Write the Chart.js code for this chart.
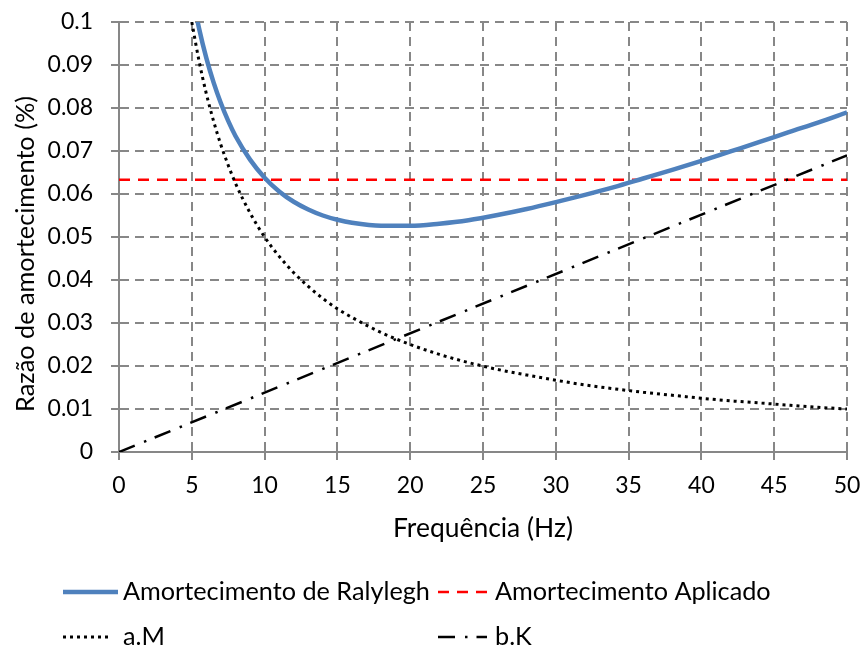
<!DOCTYPE html>
<html><head><meta charset="utf-8">
<script src="https://cdn.jsdelivr.net/npm/chart.js@4.4.1/dist/chart.umd.min.js"></script>
<style>html,body{margin:0;padding:0;background:#fff}</style>
</head><body>
<canvas id="c" width="866" height="647"></canvas>
<script>
// ---- data ----
const freq = [5, 5.5, 6, 6.5, 7, 7.5, 8, 9, 10, 11, 12, 13, 14, 15, 16, 18, 20, 22, 24, 26, 28, 30, 32, 34, 36, 38, 40, 42, 44, 46, 48, 50];
const rayleigh = [0.1069, 0.0985, 0.0916, 0.0859, 0.0811, 0.0770, 0.0735, 0.0680, 0.0638, 0.0606, 0.0582, 0.0564, 0.0550, 0.0540, 0.0533, 0.0526, 0.0526, 0.0531, 0.0539, 0.0551, 0.0565, 0.0581, 0.0598, 0.0616, 0.0636, 0.0656, 0.0677, 0.0699, 0.0721, 0.0744, 0.0766, 0.0790];
const massTerm = [0.1, 0.0909, 0.0833, 0.0769, 0.0714, 0.0667, 0.0625, 0.0556, 0.05, 0.0455, 0.0417, 0.0385, 0.0357, 0.0333, 0.0313, 0.0278, 0.025, 0.0227, 0.0208, 0.0192, 0.0179, 0.0167, 0.0156, 0.0147, 0.0139, 0.0132, 0.0125, 0.0119, 0.0114, 0.0109, 0.0104, 0.01];
const stiffFreq = [0, 50];
const stiffTerm = [0, 0.069];
const appliedFreq = [0, 50];
const appliedDamping = [0.0633, 0.0633];
const yTickLabels = ['0', '0.01', '0.02', '0.03', '0.04', '0.05', '0.06', '0.07', '0.08', '0.09', '0.1'];
const xTickLabels = ['0', '5', '10', '15', '20', '25', '30', '35', '40', '45', '50'];
const seriesNames = ['Amortecimento de Ralylegh', 'Amortecimento Aplicado', 'a.M', 'b.K'];
const xTitle = 'Frequência (Hz)';
const yTitle = 'Razão de amortecimento (%)';

const pts = (xs, ys) => xs.map((x, i) => ({x: x, y: ys[i]}));
const FONT = 'Lato';
const GRID = '#878787';

// font size that makes a text reach a given pixel width
const mctx = document.createElement('canvas').getContext('2d');
function fitSize(text, width) {
  mctx.font = '100px ' + FONT;
  return 100 * width / mctx.measureText(text).width;
}
const legendSize = fitSize(seriesNames[0], 307);
const xTitleSize = fitSize(xTitle, 180);
const yTitleSize = fitSize(yTitle, 316);
const tickSize = 23;

const overlayPlugin = {
  id: 'overlay',
  afterDraw(chart) {
    const ctx = chart.ctx;
    const pos = [[63, 592, 55, 123], [438, 592, 49, 495], [63, 637, 46, 123], [438, 637, 49, 495]];
    ctx.save();
    chart.data.datasets.forEach((ds, i) => {
      const [x, y, len, tx] = pos[i];
      ctx.beginPath();
      ctx.strokeStyle = ds.borderColor;
      ctx.lineWidth = ds.borderWidth;
      ctx.setLineDash(ds.borderDash || []);
      ctx.moveTo(x, y);
      ctx.lineTo(x + len, y);
      ctx.stroke();
      ctx.setLineDash([]);
      ctx.fillStyle = '#000';
      ctx.font = legendSize.toFixed(2) + 'px ' + FONT;
      ctx.textBaseline = 'middle';
      ctx.textAlign = 'left';
      ctx.fillText(ds.label, tx, y);
    });
    // axis titles
    ctx.fillStyle = '#000';
    ctx.textAlign = 'center';
    ctx.textBaseline = 'middle';
    ctx.font = xTitleSize.toFixed(2) + 'px ' + FONT;
    ctx.fillText(xTitle, 483, 528);
    ctx.translate(26, 254);
    ctx.rotate(-Math.PI / 2);
    ctx.font = yTitleSize.toFixed(2) + 'px ' + FONT;
    ctx.fillText(yTitle, 0, 0);
    ctx.restore();
  }
};

const noOverhang = (s) => { s.paddingTop = 0; s.paddingBottom = 0; s.paddingLeft = 0; s.paddingRight = 0; };

new Chart(document.getElementById('c'), {
  type: 'line',
  data: {
    datasets: [
      {label: seriesNames[0], data: pts(freq, rayleigh), borderColor: '#4F81BD', borderWidth: 4.5, pointRadius: 0, cubicInterpolationMode: 'monotone', order: 0},
      {label: seriesNames[1], data: pts(appliedFreq, appliedDamping), borderColor: '#FF0000', borderWidth: 2.5, borderDash: [11, 8], pointRadius: 0, order: 2},
      {label: seriesNames[2], data: pts(freq, massTerm), borderColor: '#000000', borderWidth: 3, borderDash: [3, 4], pointRadius: 0, cubicInterpolationMode: 'monotone', order: 1},
      {label: seriesNames[3], data: pts(stiffFreq, stiffTerm), borderColor: '#000000', borderWidth: 2.5, borderDash: [17, 10, 2.5, 9], pointRadius: 0, order: 1}
    ]
  },
  options: {
    responsive: false,
    animation: false,
    devicePixelRatio: 1,
    layout: {padding: {left: 0, top: 22, right: 19, bottom: 107}},
    plugins: {legend: {display: false}, tooltip: {enabled: false}},
    scales: {
      x: {
        type: 'linear', min: 0, max: 50,
        ticks: {stepSize: 5, color: '#000', font: {family: FONT, size: tickSize}, padding: 12,
          callback: (v) => xTickLabels[Math.round(v / 5)]},
        grid: {color: GRID, lineWidth: 2, tickLength: 8, tickBorderDash: [], tickColor: GRID, tickWidth: 2},
        border: {color: GRID, width: 2, dash: [9, 6]},
        afterFit: (s) => { s.height = 88; noOverhang(s); }
      },
      y: {
        min: 0, max: 0.1,
        ticks: {stepSize: 0.01, color: '#000', font: {family: FONT, size: tickSize}, padding: 18,
          callback: (v) => yTickLabels[Math.round(v * 100)]},
        grid: {color: GRID, lineWidth: 2, tickLength: 8, tickBorderDash: [], tickColor: GRID, tickWidth: 2},
        border: {color: GRID, width: 2, dash: [9, 6]},
        afterFit: (s) => { s.width = 119; noOverhang(s); }
      }
    }
  },
  plugins: [overlayPlugin]
});
</script>
</body></html>
